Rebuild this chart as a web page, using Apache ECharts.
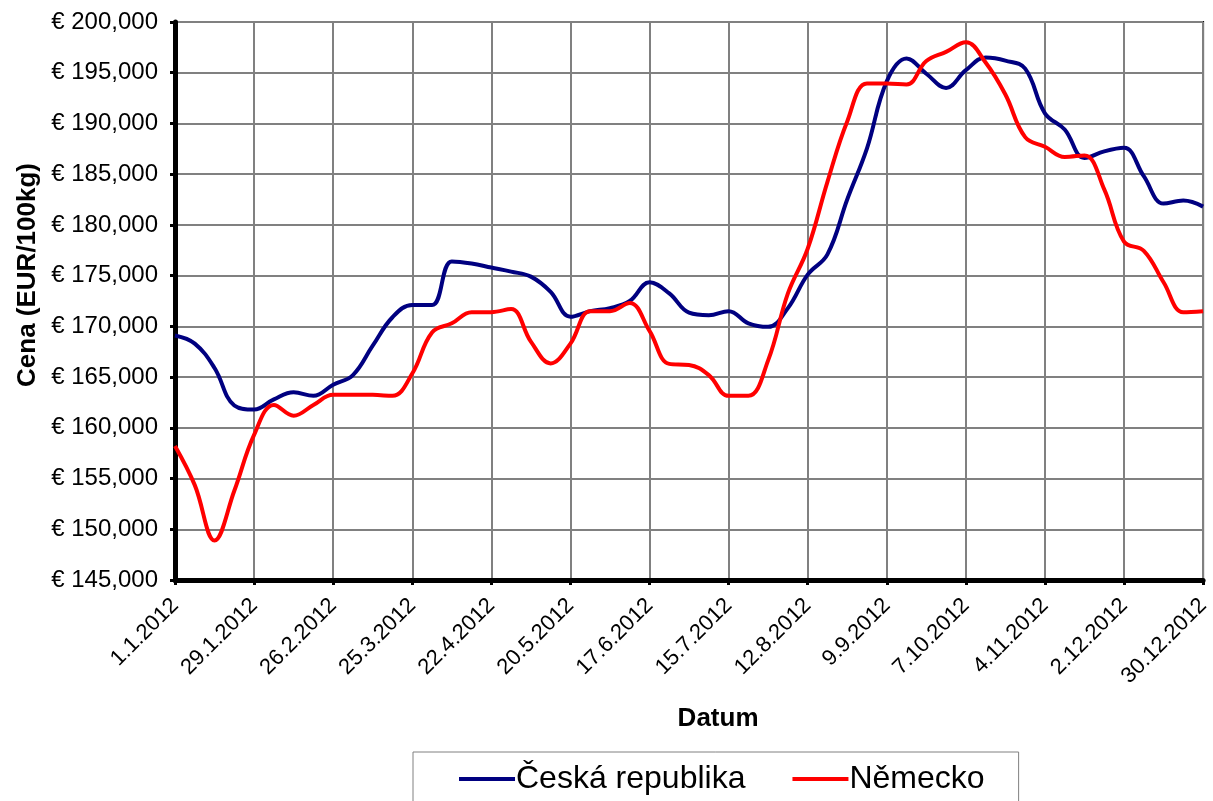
<!DOCTYPE html>
<html>
<head>
<meta charset="utf-8">
<script src="https://cdn.jsdelivr.net/npm/echarts@6/dist/echarts.min.js"></script>
<style>
html,body{margin:0;padding:0;background:#fff;}
#chart{width:1213px;height:801px;}
</style>
</head>
<body>
<div id="chart"></div>
<script>
const categories = ['1.1.2012','8.1.2012','15.1.2012','22.1.2012','29.1.2012','5.2.2012','12.2.2012','19.2.2012','26.2.2012','4.3.2012','11.3.2012','18.3.2012','25.3.2012','1.4.2012','8.4.2012','15.4.2012','22.4.2012','29.4.2012','6.5.2012','13.5.2012','20.5.2012','27.5.2012','3.6.2012','10.6.2012','17.6.2012','24.6.2012','1.7.2012','8.7.2012','15.7.2012','22.7.2012','29.7.2012','5.8.2012','12.8.2012','19.8.2012','26.8.2012','2.9.2012','9.9.2012','16.9.2012','23.9.2012','30.9.2012','7.10.2012','14.10.2012','21.10.2012','28.10.2012','4.11.2012','11.11.2012','18.11.2012','25.11.2012','2.12.2012','9.12.2012','16.12.2012','23.12.2012','30.12.2012'];

const ceskaRepublika = [169100,168300,165900,162200,161800,162800,163500,163150,164250,165200,168100,170900,172100,172100,176400,176200,175800,175400,174900,173400,170950,171500,171800,172500,174350,173250,171350,171100,171500,170300,169950,171800,175100,177100,182500,187550,194150,196400,194900,193500,195250,196500,196200,195400,191000,189400,186600,187250,187600,184800,182100,182400,181800];

const nemecko = [158200,154350,148900,153800,159300,162250,161200,162250,163250,163250,163250,163150,165350,169400,170300,171400,171400,171700,168500,166350,168300,171500,171500,172300,169550,166300,166200,165200,163150,163150,166650,173250,177650,184250,190200,193950,193950,193850,196150,197050,198000,196000,192850,188650,187700,186700,186850,183500,178350,177450,174350,171400,171500];

const seriesNames = ['Česká republika','Německo'];
const yMin = 145000, yMax = 200000, yStep = 5000;

const font = 'Arial, "Liberation Sans", sans-serif';
const chart = echarts.init(document.getElementById('chart'));
chart.setOption({
  animation:false,
  backgroundColor:'#fff',
  grid:{left:175,right:7,top:22,bottom:221,show:true,borderColor:'#000',borderWidth:2,containLabel:false},
  legend:{
    data:seriesNames,
    left:413, top:752,
    padding:[11,34,24,46],
    borderColor:'#808080', borderWidth:1,
    icon:'rect', itemWidth:56, itemHeight:4, itemGap:47,
    textStyle:{fontFamily:font,fontSize:32,color:'#000',padding:[0,0,0,-4]}
  },
  xAxis:{
    type:'category',
    data:categories,
    boundaryGap:false,
    name:'Datum',
    nameLocation:'middle',
    nameGap:126,
    nameTextStyle:{fontFamily:font,fontSize:26,fontWeight:'bold',color:'#000',padding:[0,0,0,58]},
    axisLine:{lineStyle:{color:'#000',width:5}},
    axisTick:{interval:3,length:5,lineStyle:{color:'#000',width:3}},
    axisLabel:{interval:3,rotate:45,fontFamily:font,fontSize:22,color:'#000',margin:22},
    splitLine:{show:true,interval:3,lineStyle:{color:'#808080',width:2}}
  },
  yAxis:{
    type:'value',
    min:yMin,max:yMax,interval:yStep,
    name:'Cena (EUR/100kg)',
    nameLocation:'middle',
    nameGap:133,
    nameTextStyle:{fontFamily:font,fontSize:26,fontWeight:'bold',color:'#000',padding:[0,0,0,52]},
    axisLine:{show:true,lineStyle:{color:'#000',width:5}},
    axisTick:{show:true,length:5,lineStyle:{color:'#000',width:3}},
    axisLabel:{fontFamily:font,fontSize:24,color:'#000',margin:17,
      formatter:v=>'€ '+v.toLocaleString('en-US')},
    splitLine:{show:true,lineStyle:{color:'#808080',width:2}}
  },
  series:[
    {name:seriesNames[0],type:'line',data:ceskaRepublika,smooth:0.4,showSymbol:false,
     lineStyle:{color:'#000080',width:4},itemStyle:{color:'#000080'}},
    {name:seriesNames[1],type:'line',data:nemecko,smooth:0.4,showSymbol:false,
     lineStyle:{color:'#FF0000',width:4},itemStyle:{color:'#FF0000'}}
  ]
});
</script>
</body>
</html>
